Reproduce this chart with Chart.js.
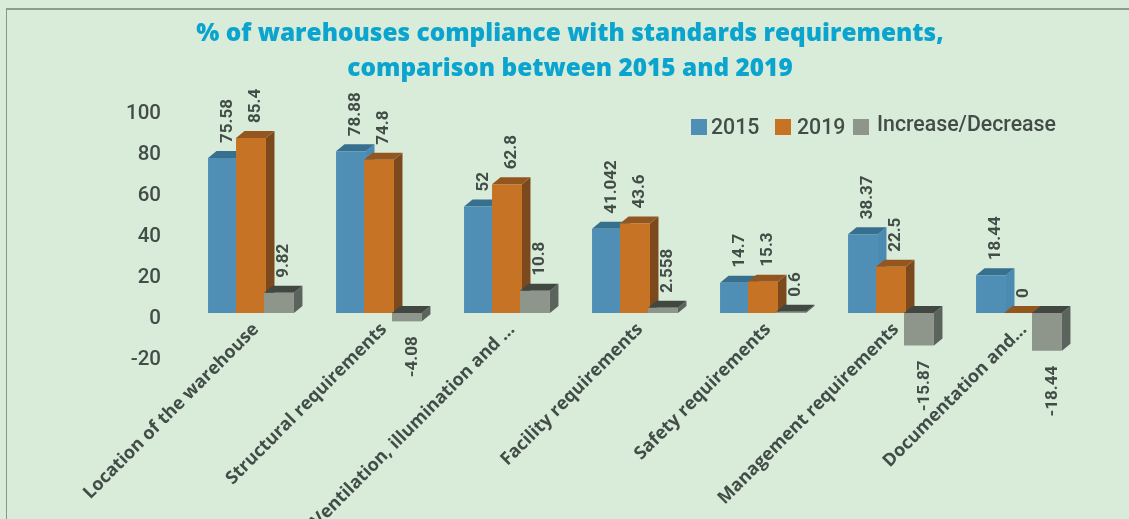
<!DOCTYPE html>
<html>
<head>
<meta charset="utf-8">
<title>Warehouses compliance</title>
<script src="https://cdn.jsdelivr.net/npm/chart.js@4"></script>
<style>
  html, body { margin: 0; padding: 0; background: #d8ecd9; overflow: hidden; }
  #frame { position: absolute; left: 6px; top: 8px; right: 0; bottom: 0; border-left: 1px solid #8b968a; border-top: 2px solid #8f9b8e; }
  canvas { position: absolute; left: 0; top: 0; }
</style>
</head>
<body>
<div id="frame"></div>
<canvas id="myChart" width="1129" height="519"></canvas>
<script>
var titleLines = [
  "% of warehouses compliance with standards requirements,",
  "comparison between 2015 and 2019"
];
var categories = [
  "Location of the warehouse",
  "Structural requirements",
  "Ventilation, illumination and ...",
  "Facility requirements",
  "Safety requirements",
  "Management requirements",
  "Documentation and..."
];
var values2015 = [75.58, 78.88, 52, 41.042, 14.7, 38.37, 18.44];
var values2019 = [85.4, 74.8, 62.8, 43.6, 15.3, 22.5, 0];
var valuesChange = [9.82, -4.08, 10.8, 2.558, 0.6, -15.87, -18.44];
var seriesNames = ["2015", "2019", "Increase/Decrease"];

var frontColors = ["#4f8fb5", "#c67325", "#8e968b"];
var topColors = ["#376f8f", "#93561f", "#414842"];
var sideColors = ["#4b8bb1", "#7c491c", "#5b635c"];
var textColor = "#434d47";

// depth of the fake 3d box
var depthX = 8.5;
var depthY = 7;

function poly(ctx, pts, color) {
  ctx.fillStyle = color;
  ctx.beginPath();
  ctx.moveTo(pts[0][0], pts[0][1]);
  for (var i = 1; i < pts.length; i++) ctx.lineTo(pts[i][0], pts[i][1]);
  ctx.closePath();
  ctx.fill();
}

// later series sit on top of earlier ones, the reverse of what the library does
var boxBars = {
  id: "boxBars",
  afterLayout: function (chart) {
    // axis labels get clipped to the scale box, the long ones start above it
    chart.scales.x.top = 300;
  },
  beforeDatasetsDraw: function (chart) {
    var ctx = chart.ctx;
    chart.getSortedVisibleDatasetMetas().forEach(function (meta) {
      var i = meta.index;
      ctx.save();
      meta.data.forEach(function (bar) {
        var l = bar.x - bar.width / 2, r = bar.x + bar.width / 2;
        var t = Math.min(bar.y, bar.base), b = Math.max(bar.y, bar.base);
        poly(ctx, [[r, t], [r + depthX, t - depthY], [r + depthX, b - depthY], [r, b]], sideColors[i]);
        poly(ctx, [[l, t], [r, t], [r + depthX, t - depthY], [l + depthX, t - depthY]], topColors[i]);
      });
      ctx.restore();
      meta.controller.draw();
    });
    return false;
  }
};

var valueLabels = {
  id: "valueLabels",
  afterDraw: function (chart) {
    var ctx = chart.ctx;
    ctx.save();
    ctx.font = "bold 17px Roboto";
    ctx.fillStyle = textColor;
    ctx.textBaseline = "middle";
    chart.data.datasets.forEach(function (ds, i) {
      chart.getDatasetMeta(i).data.forEach(function (bar, j) {
        var v = ds.data[j];
        ctx.save();
        if (v < 0) {
          ctx.translate(bar.x + 5.5, bar.y + 15);
          ctx.textAlign = "right";
        } else {
          ctx.translate(bar.x + 5, bar.y - 15);
          ctx.textAlign = "left";
        }
        ctx.rotate(-Math.PI / 2);
        ctx.fillText(String(v), 0, 0);
        ctx.restore();
      });
    });
    ctx.restore();
  }
};

// legend has uneven gaps and a raised last entry, so the built in one is not used
var legendSpots = [
  { box: 691, text: 711, base: 134 },
  { box: 775, text: 797, base: 134 },
  { box: 853, text: 877, base: 131 }
];
var keyLegend = {
  id: "keyLegend",
  afterDraw: function (chart) {
    var ctx = chart.ctx;
    ctx.save();
    ctx.textBaseline = "alphabetic";
    ctx.textAlign = "left";
    chart.data.datasets.forEach(function (ds, i) {
      var s = legendSpots[i];
      ctx.fillStyle = frontColors[i];
      ctx.fillRect(s.box, 119, 16, 16);
      ctx.fillStyle = textColor;
      ctx.font = "500 21.3px Roboto";
      ctx.fillText(ds.label, s.text, s.base);
    });
    ctx.restore();
  }
};

function makeSet(i, values) {
  return {
    label: seriesNames[i],
    data: values,
    backgroundColor: frontColors[i],
    clip: false,
    barPercentage: 1.07,
    categoryPercentage: 0.656
  };
}

new Chart(document.getElementById("myChart"), {
  type: "bar",
  data: {
    labels: categories,
    datasets: [makeSet(0, values2015), makeSet(1, values2019), makeSet(2, valuesChange)]
  },
  plugins: [boxBars, valueLabels, keyLegend],
  options: {
    responsive: false,
    animation: false,
    layout: { padding: { left: 57, right: 46, top: 0, bottom: 0 } },
    plugins: {
      legend: { display: false },
      tooltip: { enabled: false },
      title: {
        display: true,
        text: titleLines,
        color: "#0aa4cf",
        font: { family: "'Open Sans'", size: 24.4, weight: "800", lineHeight: 1.434 },
        padding: { top: 16.5, bottom: 21.5 }
      }
    },
    scales: {
      x: {
        grid: { display: false, drawTicks: false },
        border: { display: false },
        afterFit: function (s) { s.height = 165; },
        ticks: {
          autoSkip: false,
          minRotation: 45,
          maxRotation: 45,
          padding: 19,
          labelOffset: 5,
          color: textColor,
          font: { family: "'Open Sans'", size: 18, weight: "bold" }
        }
      },
      y: {
        min: -20,
        max: 100,
        grid: { display: false, drawTicks: false },
        border: { display: false },
        afterFit: function (s) { s.width = 130; },
        ticks: {
          stepSize: 20,
          padding: 26,
          labelOffset: 6,
          color: textColor,
          font: { family: "Roboto", size: 20.5, weight: "500" }
        }
      }
    }
  }
});
</script>
</body>
</html>
